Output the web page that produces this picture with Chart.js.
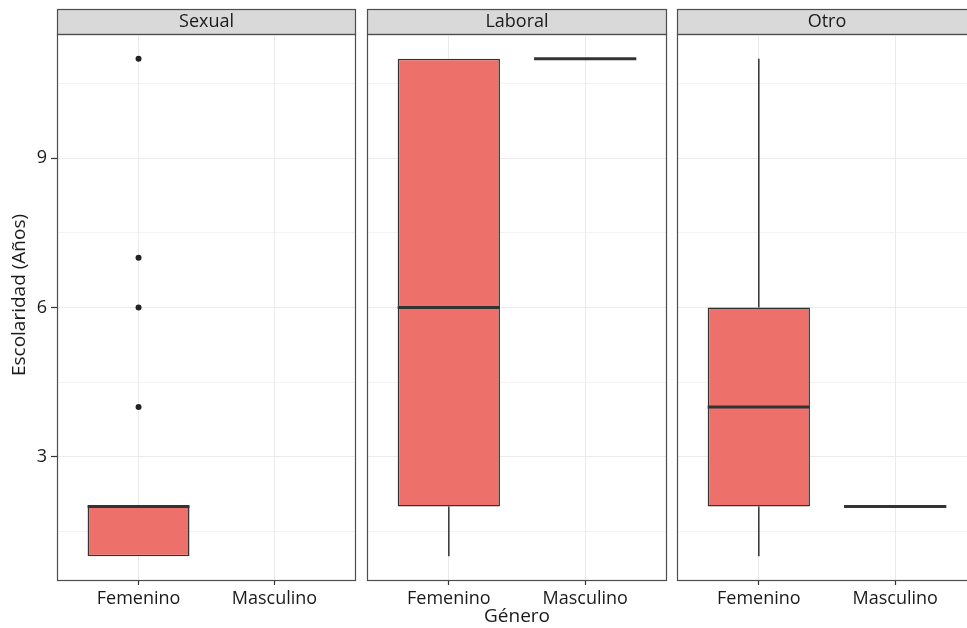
<!DOCTYPE html>
<html><head><meta charset="utf-8">
<script src="https://cdn.jsdelivr.net/npm/chart.js@4.4.1/dist/chart.umd.min.js"></script>
<style>
html,body{margin:0;padding:0;background:#fff;overflow:hidden;width:967px;height:628px;position:relative;}
.p{position:absolute;top:0;height:628px;}
</style></head><body>
<div class="p" style="left:0px;width:360px"><canvas id="c0" width="360" height="628"></canvas></div>
<div class="p" style="left:360px;width:310px"><canvas id="c1" width="310" height="628"></canvas></div>
<div class="p" style="left:670px;width:310px"><canvas id="c2" width="310" height="628"></canvas></div>
<script>
// ---- data ----
const facets = ['Sexual', 'Laboral', 'Otro'];
const categories = ['Femenino', 'Masculino'];
const yTicks = [3, 6, 9];
const yMinorGrid = [1.5, 4.5, 7.5, 10.5];
const xTitle = 'Género';
const yTitle = 'Escolaridad (Años)';
// per facet: [Femenino, Masculino]; null = no observations
const lowerWhisker = [[1, null], [1, 11], [1, 2]];
const q1Values     = [[1, null], [2, 11], [2, 2]];
const medianValues = [[2, null], [6, 11], [4, 2]];
const q3Values     = [[2, null], [11, 11], [6, 2]];
const upperWhisker = [[2, null], [11, 11], [11, 2]];
const outliersFemenino = [[4, 6, 7, 11], [], []];
const outliersMasculino = [[], [], []];

// ---- styling ----
Chart.defaults.font.family = "'Open Sans', 'Noto Sans', sans-serif";
Chart.defaults.color = '#1a1a1a';
const BOX_FILL = '#ED716A';
const DARK = '#333333';
const GRID = '#ebebeb';
const FRAME = '#4d4d4d';

// y range like ggplot (5% expansion of data range)
const allVals = [].concat(...lowerWhisker.flat(), ...upperWhisker.flat(), ...outliersFemenino.flat(), ...outliersMasculino.flat()).filter(v => v != null);
const dMin = Math.min(...allVals), dMax = Math.max(...allVals);
const yMin = dMin - 0.05 * (dMax - dMin), yMax = dMax + 0.05 * (dMax - dMin);
// discrete x with 0.6 expansion
const xMin = 1 - 0.6, xMax = categories.length + 0.6;

const panelLayout = [
  {padLeft: 0, padRight: 3, yAxisWidth: 57},
  {padLeft: 7, padRight: 3, yAxisWidth: 0},
  {padLeft: 7, padRight: 3, yAxisWidth: 0}
];
const STRIP_TOP = 9;

const stripPlugin = {
  id: 'strip',
  beforeDraw(chart) {
    const {ctx, chartArea} = chart;
    ctx.save();
    ctx.fillStyle = '#d9d9d9';
    ctx.fillRect(chartArea.left, STRIP_TOP, chartArea.right - chartArea.left, chartArea.top - STRIP_TOP);
    ctx.strokeStyle = FRAME;
    ctx.lineWidth = 1.2;
    ctx.strokeRect(chartArea.left + 0.5, STRIP_TOP + 0.5, chartArea.right - chartArea.left - 1, chartArea.top - STRIP_TOP);
    ctx.restore();
  },
  afterDraw(chart) {
    const {ctx, chartArea} = chart;
    ctx.save();
    ctx.strokeStyle = FRAME;
    ctx.lineWidth = 1.2;
    ctx.strokeRect(chartArea.left + 0.5, chartArea.top + 0.5, chartArea.right - chartArea.left - 1, chartArea.bottom - chartArea.top - 1);
    ctx.restore();
  }
};

const boxPlugin = {
  id: 'boxparts',
  afterDatasetsDraw(chart) {
    const fi = chart.options.plugins.boxparts.facet;
    const meta = chart.getDatasetMeta(0);
    const ys = chart.scales.y;
    const ctx = chart.ctx;
    ctx.save();
    ctx.strokeStyle = DARK;
    categories.forEach((c, j) => {
      if (medianValues[fi][j] == null) return;
      const el = meta.data[j];
      const x = el.x, w = el.width;
      // whiskers
      ctx.lineWidth = 1.5;
      ctx.beginPath();
      ctx.moveTo(x, ys.getPixelForValue(q3Values[fi][j]));
      ctx.lineTo(x, ys.getPixelForValue(upperWhisker[fi][j]));
      ctx.moveTo(x, ys.getPixelForValue(q1Values[fi][j]));
      ctx.lineTo(x, ys.getPixelForValue(lowerWhisker[fi][j]));
      ctx.stroke();
      // median
      ctx.lineWidth = 3;
      ctx.beginPath();
      const my = ys.getPixelForValue(medianValues[fi][j]);
      ctx.moveTo(x - w / 2, my);
      ctx.lineTo(x + w / 2, my);
      ctx.stroke();
    });
    ctx.restore();
  }
};

const yTitlePlugin = {
  id: 'ytitle',
  afterDraw(chart) {
    if (!chart.options.plugins.ytitle.show) return;
    const {ctx, chartArea} = chart;
    ctx.save();
    ctx.translate(20, (STRIP_TOP + chartArea.bottom) / 2);
    ctx.rotate(-Math.PI / 2);
    ctx.textAlign = 'center';
    ctx.textBaseline = 'middle';
    ctx.fillStyle = '#1a1a1a';
    ctx.font = "19px 'Open Sans', 'Noto Sans', sans-serif";
    ctx.fillText(yTitle, 0, 0);
    ctx.restore();
  }
};

facets.forEach((facet, fi) => {
  const L = panelLayout[fi];
  const showY = fi === 0;
  const outPts = [];
  outliersFemenino[fi].forEach(v => outPts.push({x: 1, y: v}));
  outliersMasculino[fi].forEach(v => outPts.push({x: 2, y: v}));
  new Chart(document.getElementById('c' + fi), {
    type: 'bar',
    data: {
      datasets: [
        {
          type: 'bar',
          data: categories.map((c, j) => ({x: j + 1, y: q1Values[fi][j] == null ? null : [q1Values[fi][j], q3Values[fi][j]]})),
          backgroundColor: BOX_FILL,
          borderColor: DARK,
          borderWidth: 1.5,
          borderSkipped: false,
          barPercentage: 0.75,
          categoryPercentage: 1
        },
        {
          type: 'line',
          showLine: false,
          data: outPts,
          pointRadius: 3,
          pointBackgroundColor: '#222',
          pointBorderWidth: 0
        }
      ]
    },
    options: {
      responsive: false,
      animation: false,
      layout: {padding: {top: STRIP_TOP, left: L.padLeft, right: L.padRight, bottom: 0}},
      plugins: {
        legend: {display: false},
        tooltip: {enabled: false},
        title: {
          display: true, text: facet, fullSize: false,
          font: {size: 18, weight: 'normal'}, color: '#1a1a1a',
          padding: {top: 1.8, bottom: 1.6}
        },
        boxparts: {facet: fi},
        ytitle: {show: showY}
      },
      scales: {
        x: {
          type: 'linear', min: xMin, max: xMax, offset: false,
          afterBuildTicks: s => { s.ticks = categories.map((c, j) => ({value: j + 1})); },
          afterFit: s => { s.height = 47; },
          ticks: {
            callback: v => categories[v - 1] || '',
            font: {size: 18}, color: '#1a1a1a', padding: 3, maxRotation: 0, autoSkip: false
          },
          grid: {offset: false, color: GRID, lineWidth: 1, tickColor: DARK, tickLength: 4, tickWidth: 1.2},
          border: {display: false},
          title: {display: fi === 1, text: xTitle, font: {size: 19}, color: '#1a1a1a', padding: {top: 0, bottom: 0}}
        },
        y: {
          type: 'linear', min: yMin, max: yMax,
          afterBuildTicks: s => { s.ticks = [...yMinorGrid, ...yTicks].sort((a, b) => a - b).map(v => ({value: v})); },
          afterFit: s => { s.width = L.yAxisWidth; },
          ticks: {
            display: showY,
            callback: v => yTicks.includes(v) ? String(v) : '',
            font: {size: 18}, color: '#1a1a1a', padding: 4, autoSkip: false
          },
          grid: {
            color: GRID,
            lineWidth: c => (c.tick && yTicks.includes(c.tick.value)) ? 1 : 0.6,
            tickColor: c => (showY && c.tick && yTicks.includes(c.tick.value)) ? DARK : 'rgba(0,0,0,0)',
            tickLength: 6, tickWidth: 1.2, drawTicks: showY
          },
          border: {display: false}
        }
      }
    },
    plugins: [stripPlugin, boxPlugin, yTitlePlugin]
  });
});
</script>
</body></html>
